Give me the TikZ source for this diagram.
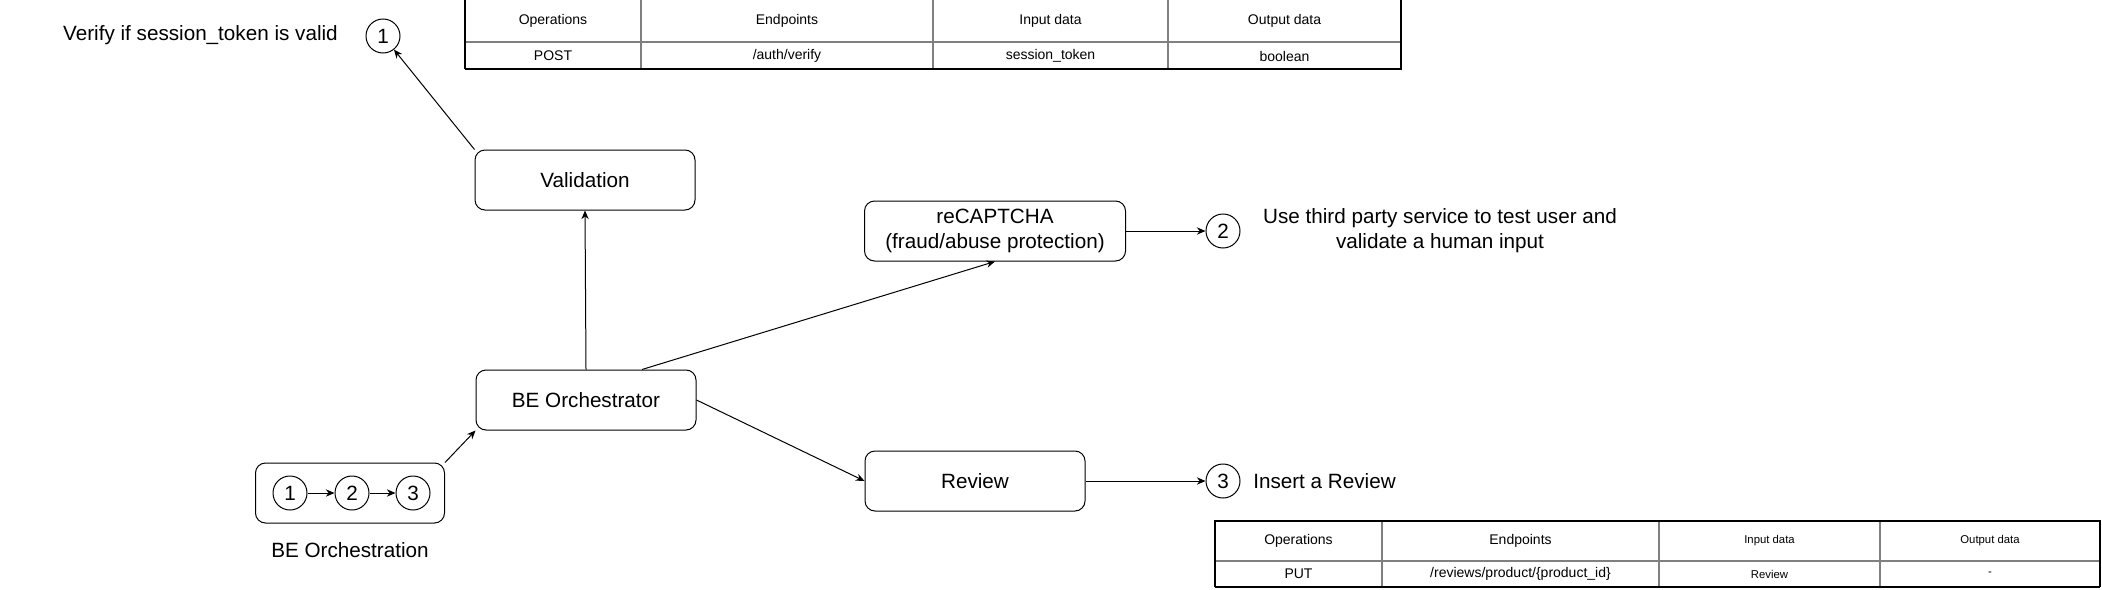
\documentclass[tikz,border=0pt]{standalone}
\usepackage{fontspec}
\setmainfont{Liberation Sans}
\usetikzlibrary{arrows.meta}

\begin{document}
\begin{tikzpicture}[x=0.75pt, y=-0.75pt,
    box/.style={draw, line width=0.75pt, rounded corners=7.5pt, minimum width=165pt,
                minimum height=45pt, inner sep=0pt, align=center,
                font=\fontsize{15.5}{18.75}\selectfont},
    num/.style={draw, circle, line width=0.75pt, minimum size=25.5pt, inner sep=0pt,
                font=\fontsize{15.5}{18.75}\selectfont},
    note/.style={inner sep=0pt, align=center, font=\fontsize{15.5}{18.75}\selectfont},
    flow/.style={-{Stealth[length=6.5pt, width=5.5pt]}, line width=0.75pt},
    cell/.style={inner sep=0pt, font=\fontsize{10.5}{12}\selectfont},
    smallcell/.style={inner sep=0pt, font=\fontsize{8.5}{10}\selectfont},
    gridline/.style={draw=black!50, line width=1pt},
    heavy/.style={line width=1.8pt}]
    \useasboundingbox (0,0) rectangle (2102,589);

    % Services
    \node[box] (valid) at (585,180) {Validation};
    \node[box] (orch) at (586,400) {BE Orchestrator};
    \node[box, minimum width=195.75pt] (captcha) at (995,231) {reCAPTCHA\\(fraud/abuse protection)};
    \node[box] (review) at (975,481) {Review};

    % Numbered steps and what they do
    \node[num] (step1) at (383,36) {1};
    \node[num] (step2) at (1223,231) {2};
    \node[num] (step3) at (1223,481) {3};
    \node[note, anchor=east] (note1) at (338,35) {Verify if session\_token is valid};
    \node[note] (note2) at (1440,231) {Use third party service to test user and\\validate a human input};
    \node[note, anchor=west] (note3) at (1253,481) {Insert a Review};

    % Orchestration sequence
    \node[box, minimum width=141.75pt] (group) at (350,493) {};
    \node[num] (seq1) at (290,493) {1};
    \node[num] (seq2) at (352,493) {2};
    \node[num] (seq3) at (413,493) {3};
    \node[note] (groupname) at (350,550) {BE Orchestration};
    \draw[flow] (seq1) -- (seq2);
    \draw[flow] (seq2) -- (seq3);

    % Calls
    \draw[flow] (group.north east) -- (orch.south west);
    \draw[flow] (orch.north) -- (valid.south);
    \draw[flow] (valid.north west) -- (step1);
    \draw[flow] ([xshift=42pt]orch.north) -- (captcha.south);
    \draw[flow] (orch.east) -- (review.west);
    \draw[flow] (captcha.east) -- (step2.west);
    \draw[flow] (review.east) -- (step3.west);

    % Endpoint table for validation
    \draw[gridline] (465,42) -- (1401,42);
    \foreach \x in {641,933,1168} {
        \draw[gridline] (\x,-2) -- (\x,69);
    }
    \draw[line width=1pt] (465,-2) -- (465,69);
    \draw[heavy] (465,69) -- (1401,69) -- (1401,-2);
    \foreach \cx/\txt [count=\i] in {553/Operations, 787/Endpoints, 1050.5/Input data, 1284.5/Output data} {
        \node[cell] (valhead\i) at (\cx,21) {\txt};
    }
    \node[cell] (valop) at (553,56) {POST};
    \node[cell] (valpath) at (787,56) {/auth/verify};
    \node[cell] (valin) at (1050.5,56) {session\_token};
    \node[cell] (valout) at (1284.5,56) {boolean};

    % Endpoint table for review
    \draw[gridline] (1215,561) -- (2100,561);
    \foreach \x in {1382,1659,1880} {
        \draw[gridline] (\x,521) -- (\x,587);
    }
    \draw[line width=1pt] (1215,587) -- (1215,521) -- (2100,521) -- (2100,587);
    \draw[heavy] (1215,587) -- (2100,587);
    \node[cell] (revhead1) at (1298.5,541) {Operations};
    \node[cell] (revhead2) at (1520.5,541) {Endpoints};
    \node[smallcell] (revhead3) at (1769.5,541) {Input data};
    \node[smallcell] (revhead4) at (1990,541) {Output data};
    \node[cell] (revop) at (1298.5,574) {PUT};
    \node[cell] (revpath) at (1520.5,574) {/reviews/product/\{product\_id\}};
    \node[smallcell] (revin) at (1769.5,574) {Review};
    \node[smallcell] (revout) at (1990,574) {-};
\end{tikzpicture}
\end{document}
